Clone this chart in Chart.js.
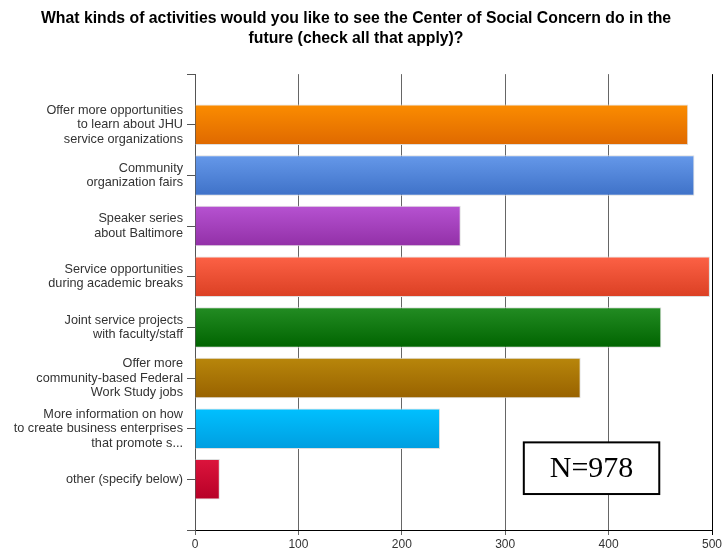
<!DOCTYPE html>
<html>
<head>
<meta charset="utf-8">
<script src="https://cdn.jsdelivr.net/npm/chart.js@4/dist/chart.umd.min.js"></script>
<style>
  body { margin: 0; background: #fff; }
</style>
</head>
<body>
<canvas id="chart" width="728" height="552"></canvas>
<script>
const categories = [
  ["Offer more opportunities", "to learn about JHU", "service organizations"],
  ["Community", "organization fairs"],
  ["Speaker series", "about Baltimore"],
  ["Service opportunities", "during academic breaks"],
  ["Joint service projects", "with faculty/staff"],
  ["Offer more", "community-based Federal", "Work Study jobs"],
  ["More information on how", "to create business enterprises", "that promote s..."],
  ["other (specify below)"]
];
const values = [477, 483, 257, 498, 451, 373, 237, 24];
const xTicks = [0, 100, 200, 300, 400, 500];
const sampleSize = "N=978";

// top / bottom colours of each bar gradient
const topColors = ["#fb8c00", "#6598e9", "#b652d1", "#fc6145", "#238c23", "#b8860b", "#00c0ff", "#dc143c"];
const bottomColors = ["#df6900", "#3f72c8", "#9230a7", "#db4024", "#006400", "#986200", "#009ee0", "#b70027"];

// empty slot above and below, like the original
const labels = [""].concat(categories, [""]);
const data = [null].concat(values, [null]);

function barFill(c) {
  const chart = c.chart;
  const i = c.dataIndex - 1;
  if (i < 0 || i >= values.length || !chart.chartArea) return "#ccc";
  const y = chart.scales.y.getPixelForValue(c.dataIndex);
  const g = chart.ctx.createLinearGradient(0, y - 20, 0, y + 20);
  g.addColorStop(0, topColors[i]);
  g.addColorStop(1, bottomColors[i]);
  return g;
}

const nBox = {
  id: "nBox",
  afterDraw(chart) {
    const { ctx, scales } = chart;
    const x1 = scales.x.getPixelForValue(318), x2 = scales.x.getPixelForValue(449);
    const y1 = scales.y.getPixelForValue(7.27), y2 = scales.y.getPixelForValue(8.29);
    ctx.save();
    ctx.fillStyle = "#fff";
    ctx.fillRect(x1, y1, x2 - x1, y2 - y1);
    ctx.strokeStyle = "#000";
    ctx.lineWidth = 2;
    ctx.strokeRect(x1, y1, x2 - x1, y2 - y1);
    ctx.fillStyle = "#000";
    ctx.font = "30px 'Liberation Serif'";
    ctx.textAlign = "center";
    ctx.textBaseline = "middle";
    ctx.fillText(sampleSize, (x1 + x2) / 2, (y1 + y2) / 2 + 1);
    ctx.restore();
  }
};

new Chart(document.getElementById("chart").getContext("2d"), {
  type: "bar",
  data: {
    labels,
    datasets: [{
      data,
      backgroundColor: barFill,
      borderColor: "#dedede",
      borderWidth: 1,
      barPercentage: 0.8,
      categoryPercentage: 1
    }]
  },
  options: {
    indexAxis: "y",
    responsive: false,
    animation: false,
    layout: { padding: { left: 0, right: 16, top: 0, bottom: 0 } },
    plugins: {
      legend: { display: false },
      tooltip: { enabled: false },
      title: {
        display: true,
        text: ["What kinds of activities would you like to see the Center of Social Concern do in the",
               "future (check all that apply)?"],
        color: "#000",
        font: { family: "'Liberation Sans'", size: 15.8, weight: "bold", lineHeight: 1.27 },
        padding: { top: 9, bottom: 25 }
      }
    },
    scales: {
      x: {
        min: 0,
        max: 500,
        afterBuildTicks: (s) => { s.ticks = xTicks.map(v => ({ value: v })); },
        afterFit: (s) => { s.height = 22; },
        grid: {
          color: (c) => c.tick && c.tick.value === 500 ? "#000" : "#666",
          tickLength: 5
        },
        border: { color: "#000", width: 1 },
        ticks: { color: "#333", font: { family: "'Liberation Sans'", size: 12 }, padding: 2 }
      },
      y: {
        offset: false,
        afterFit: (s) => { s.width = 195; },
        grid: { offset: false, drawOnChartArea: false, tickLength: 8, color: "#555" },
        border: { color: "#555", width: 1 },
        ticks: {
          color: "#333",
          font: { family: "'Liberation Sans'", size: 12.7, lineHeight: 1.13 },
          padding: 4,
          autoSkip: false
        }
      }
    }
  },
  plugins: [nBox]
});
</script>
</body>
</html>
